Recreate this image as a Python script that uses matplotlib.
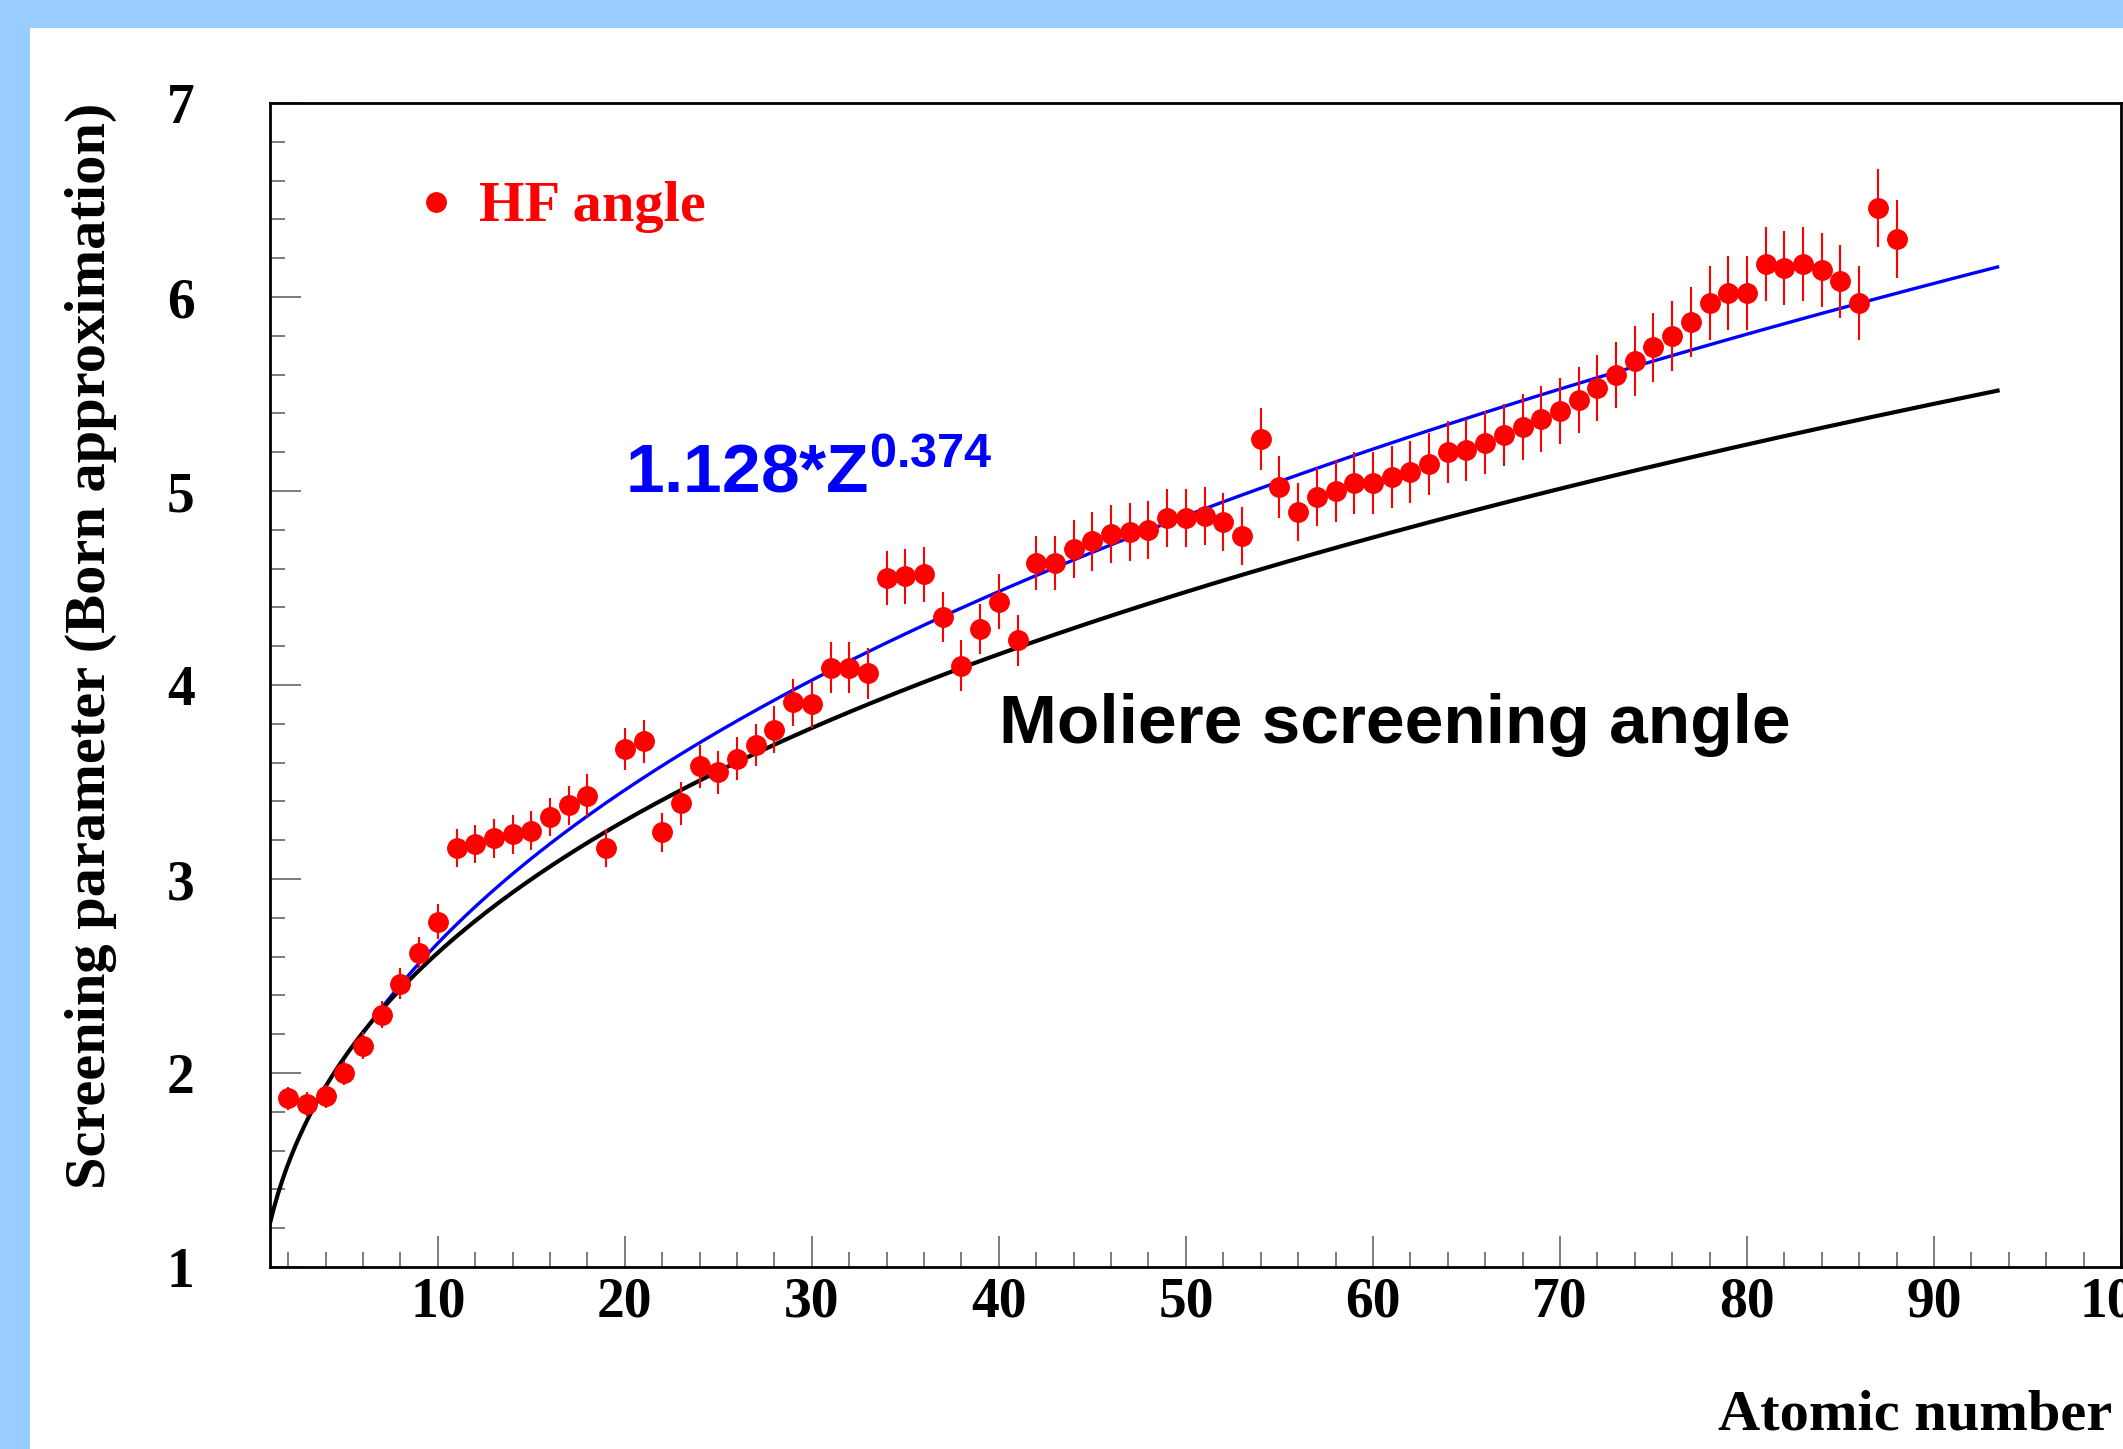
import numpy as np
import matplotlib.pyplot as plt
from matplotlib.patches import Rectangle
from matplotlib.ticker import MultipleLocator

plt.rcParams['mathtext.fontset'] = 'custom'
plt.rcParams['mathtext.rm'] = 'Liberation Sans:bold'
plt.rcParams['mathtext.bf'] = 'Liberation Sans:bold'
plt.rcParams['mathtext.it'] = 'Liberation Sans:bold'

# HF screening angle, Z = 2 .. 88
atomic_number = np.arange(2, 89)
hf_angle = [1.87, 1.84, 1.88, 2.00, 2.14, 2.30, 2.46, 2.62, 2.78,
            3.16, 3.18, 3.21, 3.23, 3.25, 3.32, 3.38, 3.43, 3.16, 3.67,
            3.71, 3.24, 3.39, 3.58, 3.55, 3.62, 3.69, 3.77, 3.91, 3.90,
            4.09, 4.09, 4.06, 4.55, 4.56, 4.57, 4.35, 4.10, 4.29, 4.43,
            4.23, 4.63, 4.63, 4.70, 4.74, 4.78, 4.79, 4.80, 4.86, 4.86,
            4.87, 4.84, 4.77, 5.27, 5.02, 4.89, 4.97, 5.00, 5.04, 5.04,
            5.07, 5.10, 5.14, 5.20, 5.21, 5.25, 5.29, 5.33, 5.37, 5.41,
            5.47, 5.53, 5.60, 5.67, 5.74, 5.80, 5.87, 5.97, 6.02, 6.02,
            6.17, 6.15, 6.17, 6.14, 6.08, 5.97, 6.46, 6.30]
hf_error = [0.06, 0.06, 0.06, 0.06, 0.07, 0.07, 0.08, 0.08, 0.09,
            0.10, 0.10, 0.10, 0.10, 0.10, 0.10, 0.10, 0.11, 0.10, 0.11,
            0.11, 0.10, 0.11, 0.11, 0.11, 0.11, 0.11, 0.12, 0.12, 0.12,
            0.13, 0.13, 0.13, 0.14, 0.14, 0.14, 0.13, 0.13, 0.13, 0.14,
            0.13, 0.14, 0.14, 0.15, 0.15, 0.15, 0.15, 0.15, 0.15, 0.15,
            0.15, 0.15, 0.15, 0.16, 0.16, 0.15, 0.15, 0.16, 0.16, 0.16,
            0.16, 0.16, 0.16, 0.16, 0.16, 0.16, 0.16, 0.17, 0.17, 0.17,
            0.17, 0.17, 0.17, 0.18, 0.18, 0.18, 0.18, 0.19, 0.19, 0.19,
            0.19, 0.19, 0.19, 0.19, 0.19, 0.19, 0.20, 0.20]

# fit 1.128*Z^0.374 and Moliere ~ Z^(1/3)
fit_coef, fit_pow = 1.128, 0.374
mol_coef, mol_pow = 1.216, 1.0 / 3.0
z_fit = np.linspace(5.5, 93.4, 400)
z_mol = np.linspace(1, 93.4, 400)

W, H = 2123, 1449
fig = plt.figure(figsize=(W / 100, H / 100), dpi=100)
fig.patch.set_facecolor('#99ccff')
fig.add_artist(Rectangle((30 / W, 0), 1, 1 - 28 / H, transform=fig.transFigure,
                         facecolor='white', edgecolor='none', zorder=-10))

ax = fig.add_axes([269.5 / W, 1 - 1267 / H, (2121 - 269.5) / W, (1267 - 103) / H])
ax.set_xlim(1, 100)
ax.set_ylim(1, 7)

ax.plot(z_fit, fit_coef * z_fit ** fit_pow, color='#0000ff', lw=2.4, zorder=2)
ax.plot(z_mol, mol_coef * z_mol ** mol_pow, color='black', lw=3.0, zorder=3)
ax.errorbar(atomic_number, hf_angle, yerr=hf_error, fmt='o', color='red',
            ms=14, elinewidth=1.5, capsize=0, zorder=4)

ax.xaxis.set_major_locator(MultipleLocator(10))
ax.xaxis.set_minor_locator(MultipleLocator(2))
ax.yaxis.set_major_locator(MultipleLocator(1))
ax.yaxis.set_minor_locator(MultipleLocator(0.2))
ax.tick_params(which='both', direction='in', color='#666666', width=1.2)
ax.tick_params(which='major', length=22)
ax.tick_params(which='minor', length=11)
ax.tick_params(axis='x', pad=7)
ax.tick_params(axis='y', pad=54)
for lab in ax.get_xticklabels() + ax.get_yticklabels():
    lab.set_fontfamily('Liberation Serif')
    lab.set_fontweight('bold')
    lab.set_fontsize(40)
for sp in ax.spines.values():
    sp.set_linewidth(2.0)

serif = dict(family='Liberation Serif', weight='bold', size=42)
sans = dict(family='Liberation Sans', weight='bold', size=50)

ax.plot([9.9], [6.49], 'o', color='red', ms=14)
ax.text(12.2, 6.39, 'HF angle', color='red', va='baseline', **serif)
ax.text(20.0, 4.99, '1.128*Z$^{0.374}$', color='#0000ff', va='baseline', **sans)
ax.text(40.0, 3.70, 'Moliere screening angle', color='black', va='baseline', **sans)

fig.text(91 / W, 1 - 103 / H, 'Screening parameter (Born approximation)',
         rotation=90, ha='center', va='top', **serif)
fig.text(2112 / W, 1 - 1430 / H, 'Atomic number', ha='right', va='baseline', **serif)

fig.savefig('out.png', dpi=100, facecolor=fig.get_facecolor())
